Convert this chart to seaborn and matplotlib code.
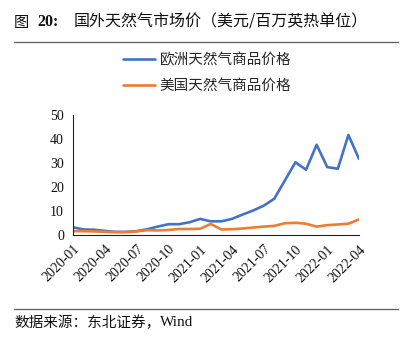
import matplotlib
matplotlib.use("Agg")
import matplotlib.pyplot as plt
import seaborn as sns
import pandas as pd
from matplotlib.lines import Line2D

months = ["2020-01", "2020-02", "2020-03", "2020-04", "2020-05", "2020-06", "2020-07",
          "2020-08", "2020-09", "2020-10", "2020-11", "2020-12", "2021-01", "2021-02",
          "2021-03", "2021-04", "2021-05", "2021-06", "2021-07", "2021-08", "2021-09",
          "2021-10", "2021-11", "2021-12", "2022-01", "2022-02", "2022-03", "2022-04"]
europe = [3.2, 2.3, 2.2, 1.7, 1.3, 1.3, 1.6, 2.4, 3.5, 4.5, 4.5, 5.3, 6.7, 5.7,
          5.7, 6.7, 8.5, 10.2, 12.2, 15.1, 22.7, 30.3, 27.2, 37.6, 28.3, 27.6, 41.7, 31.7]
us = [1.6, 1.6, 1.5, 1.3, 1.2, 1.2, 1.5, 2.0, 1.9, 2.1, 2.5, 2.5, 2.6, 4.6,
      2.3, 2.4, 2.7, 3.1, 3.5, 3.8, 4.9, 5.1, 4.7, 3.5, 4.1, 4.4, 4.7, 6.5]
series_names = ["欧洲天然气商品价格", "美国天然气商品价格"]
yticks = [0, 10, 20, 30, 40, 50]
title_prefix = "图"
title_num = "20:"
title_text = "国外天然气市场价（美元/百万英热单位）"
source_cn = "数据来源：东北证券，"
source_en = "Wind"

sns.set_theme(style="white")
plt.rcParams['font.family'] = ['Noto Sans CJK SC', 'DejaVu Sans']

n = len(months)
df = pd.DataFrame({
    "idx": list(range(n)) * 2,
    "value": europe + us,
    "series": [series_names[0]] * n + [series_names[1]] * n,
})

W, H = 410, 341
fig = plt.figure(figsize=(W / 100, H / 100), dpi=100)
fig.patch.set_facecolor("white")

left, right, top, bottom = 73, 359, 115, 235
ax = fig.add_axes([left / W, 1 - bottom / H, (right - left) / W, (bottom - top) / H])
palette = {series_names[0]: "#4472C4", series_names[1]: "#ED7D31"}
sns.lineplot(data=df, x="idx", y="value", hue="series", palette=palette,
             linewidth=1.9, ax=ax, legend=False)

ax.set_xlim(0, n - 1)
ax.set_ylim(0, 50)
ax.set_xlabel("")
ax.set_ylabel("")
xt = list(range(0, n, 3))
ax.set_xticks(xt)
ax.set_xticklabels([months[i] for i in xt], rotation=45, ha="right",
                   rotation_mode="anchor", family="Liberation Serif", fontsize=10)
ax.set_yticks(yticks)
ax.set_yticklabels([str(v) for v in yticks], family="Liberation Serif", fontsize=10)
for s in ["top", "right"]:
    ax.spines[s].set_visible(False)
for s in ["left", "bottom"]:
    ax.spines[s].set_color("#222222")
    ax.spines[s].set_linewidth(0.8)
ax.tick_params(axis="both", which="major", direction="out", length=3.5, width=0.8,
               color="#222222", pad=2, labelcolor="#111111")
ax.tick_params(axis="y", pad=3)
ax.grid(False)
ax.set_facecolor("white")

handles = [Line2D([], [], color=palette[s], linewidth=1.9) for s in series_names]
fig.legend(handles, series_names, loc="upper left",
           bbox_to_anchor=(123 / W, 1 - 53 / H), frameon=False, fontsize=10.5,
           handlelength=2.2, handletextpad=0.3, labelspacing=0.8, borderpad=0,
           borderaxespad=0)

# Title
fig.text(14 / W, 1 - 22 / H, title_prefix, fontsize=11, va="center", ha="left",
         color="#111111")
fig.text(37 / W, 1 - 22 / H, title_num, fontsize=11.5, va="center", ha="left",
         family="Liberation Serif", weight="bold", color="#111111")
fig.text(74 / W, 1 - 22 / H, title_text, fontsize=11.5, va="center", ha="left",
         color="#111111")
fig.add_artist(Line2D([14 / W, 398 / W], [1 - 42 / H, 1 - 42 / H], color="#666666",
                      linewidth=1.0, transform=fig.transFigure))
fig.add_artist(Line2D([14 / W, 398 / W], [1 - 309 / H, 1 - 309 / H], color="#666666",
                      linewidth=1.0, transform=fig.transFigure))
fig.text(14 / W, 1 - 323 / H, source_cn, fontsize=10.5, va="center", ha="left",
         color="#111111")
fig.text(160 / W, 1 - 323 / H, source_en, fontsize=11, va="center", ha="left",
         color="#111111", family="Liberation Serif")

fig.savefig("out.png", dpi=100)
